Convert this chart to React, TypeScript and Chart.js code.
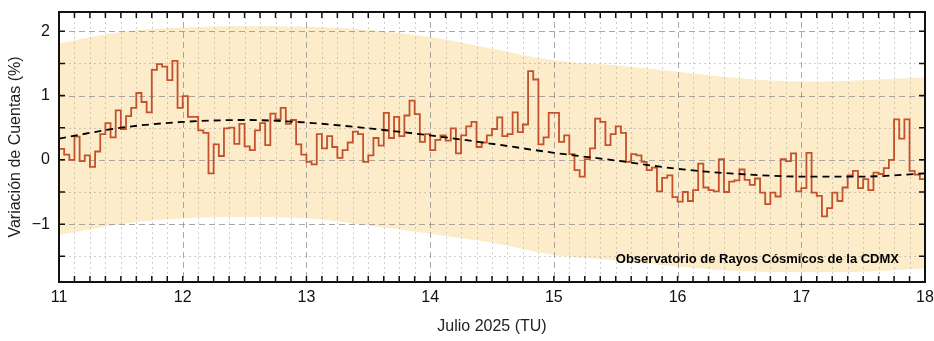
import React, { useEffect, useRef } from "react";
import { Chart, registerables } from "chart.js";

Chart.register(...registerables);

// Hourly count variation (%), 11–18 July 2025, one value per hour
const hourlyVariation: number[] = [
  // 11 Jul
  0.17, 0.08, 0.0, 0.36, -0.02, 0.07, -0.11, 0.13, 0.4, 0.57, 0.35, 0.77,
  0.48, 0.68, 0.81, 1.04, 0.9, 0.74, 1.4, 1.49, 1.45, 1.24, 1.54, 0.81,
  // 12 Jul
  0.99, 0.67, 0.67, 0.46, 0.42, -0.21, 0.24, 0.06, 0.49, 0.5, 0.25, 0.56,
  0.21, 0.15, 0.46, 0.57, 0.23, 0.72, 0.63, 0.81, 0.56, 0.62, 0.24, 0.08,
  // 13 Jul
  -0.03, -0.07, 0.4, 0.18, 0.37, 0.2, 0.03, 0.15, 0.27, 0.44, 0.4, -0.03,
  0.07, 0.34, 0.22, 0.73, 0.34, 0.67, 0.37, 0.69, 0.92, 0.71, 0.28, 0.4,
  // 14 Jul
  0.15, 0.31, 0.38, 0.3, 0.49, 0.1, 0.38, 0.52, 0.59, 0.2, 0.27, 0.38,
  0.48, 0.66, 0.37, 0.4, 0.74, 0.43, 0.55, 1.38, 1.25, 0.24, 0.35, 0.73,
  // 15 Jul
  0.73, 0.28, 0.38, 0.09, -0.16, -0.26, 0.01, 0.18, 0.64, 0.59, 0.23, 0.4,
  0.52, 0.42, -0.03, 0.09, 0.07, -0.03, -0.16, -0.12, -0.49, -0.28, -0.24, -0.58,
  // 16 Jul
  -0.65, -0.5, -0.64, -0.47, -0.06, -0.43, -0.47, -0.49, 0.01, -0.5, -0.34, -0.32,
  -0.15, -0.31, -0.39, -0.29, -0.51, -0.69, -0.51, -0.57, 0.01, -0.02, 0.1, -0.49,
  // 17 Jul
  -0.44, 0.11, -0.51, -0.56, -0.88, -0.75, -0.51, -0.64, -0.43, -0.24, -0.17, -0.44,
  -0.3, -0.47, -0.2, -0.22, -0.13, 0.0, 0.63, 0.33, 0.63, -0.17, -0.23, -0.3,
];

const startDay = 11;
const endDay = 18;

// Smooth trend (dashed) and confidence band, sampled every half day
const curveDays: number[] = [11, 11.5, 12, 12.5, 13, 13.5, 14, 14.5, 15, 15.5, 16, 16.5, 17, 17.5, 18];
const trendValues: number[] = [0.33, 0.5, 0.59, 0.62, 0.58, 0.49, 0.38, 0.25, 0.11, -0.01, -0.14, -0.22, -0.26, -0.26, -0.21];
const bandUpper: number[] = [1.81, 1.99, 2.06, 2.08, 2.07, 2.02, 1.91, 1.73, 1.55, 1.47, 1.37, 1.27, 1.22, 1.24, 1.28];
const bandLower: number[] = [-1.17, -1.0, -0.91, -0.89, -0.91, -1.02, -1.15, -1.29, -1.48, -1.56, -1.66, -1.73, -1.75, -1.74, -1.69];

const xDayTicks: number[] = [11, 12, 13, 14, 15, 16, 17, 18];
const yMajorTicks: number[] = [-1, 0, 1, 2];
const yMinorTicks: number[] = [-1.5, -0.5, 0.5, 1.5];
const yMin = -1.9;
const yMax = 2.3;
const xMinorStep = 0.125; // 3 hours

const FONT = "'Liberation Sans', Arial, Helvetica, sans-serif";

export default function App() {
  const canvasRef = useRef<HTMLCanvasElement | null>(null);

  useEffect(() => {
    const canvas = canvasRef.current;
    if (!canvas) return;

    const stepData = hourlyVariation.map((v, i) => ({ x: startDay + i / 24, y: v }));
    stepData.push({ x: endDay, y: hourlyVariation[hourlyVariation.length - 1] });

    const frame = {
      id: "frame",
      afterDatasetDraw(chart: any, args: any) {
        if (args.index !== 2) return;
        const { ctx, chartArea } = chart;
        const xs = chart.scales.x;
        const ys = chart.scales.y;
        ctx.save();
        ctx.lineWidth = 1;
        // minor dotted grid
        ctx.strokeStyle = "rgba(150,150,150,0.45)";
        ctx.setLineDash([2, 3]);
        for (let d = startDay; d <= endDay + 1e-9; d += xMinorStep) {
          if (Math.abs(d - Math.round(d)) < 1e-6) continue;
          const px = Math.round(xs.getPixelForValue(d)) + 0.5;
          ctx.beginPath();
          ctx.moveTo(px, chartArea.top);
          ctx.lineTo(px, chartArea.bottom);
          ctx.stroke();
        }
        for (const v of yMinorTicks) {
          const py = Math.round(ys.getPixelForValue(v)) + 0.5;
          ctx.beginPath();
          ctx.moveTo(chartArea.left, py);
          ctx.lineTo(chartArea.right, py);
          ctx.stroke();
        }
        // major dashed grid
        ctx.strokeStyle = "rgba(140,140,140,0.75)";
        ctx.setLineDash([6, 4]);
        for (const d of xDayTicks) {
          const px = Math.round(xs.getPixelForValue(d)) + 0.5;
          ctx.beginPath();
          ctx.moveTo(px, chartArea.top);
          ctx.lineTo(px, chartArea.bottom);
          ctx.stroke();
        }
        for (const v of yMajorTicks) {
          const py = Math.round(ys.getPixelForValue(v)) + 0.5;
          ctx.beginPath();
          ctx.moveTo(chartArea.left, py);
          ctx.lineTo(chartArea.right, py);
          ctx.stroke();
        }
        ctx.restore();
      },
      afterDraw(chart: any) {
        const { ctx, chartArea } = chart;
        const xs = chart.scales.x;
        const ys = chart.scales.y;
        const { left, right, top, bottom } = chartArea;
        ctx.save();
        ctx.setLineDash([]);
        ctx.strokeStyle = "#111";
        ctx.lineWidth = 1.5;
        const tick = 6;
        // x tick marks (every 3 h), top and bottom, inward
        for (let d = startDay; d <= endDay + 1e-9; d += xMinorStep) {
          const px = xs.getPixelForValue(d);
          ctx.beginPath();
          ctx.moveTo(px, bottom);
          ctx.lineTo(px, bottom - tick);
          ctx.moveTo(px, top);
          ctx.lineTo(px, top + tick);
          ctx.stroke();
        }
        // y tick marks (every 0.5), left and right, inward
        for (const v of [...yMajorTicks, ...yMinorTicks]) {
          const py = ys.getPixelForValue(v);
          ctx.beginPath();
          ctx.moveTo(left, py);
          ctx.lineTo(left + tick, py);
          ctx.moveTo(right, py);
          ctx.lineTo(right - tick, py);
          ctx.stroke();
        }
        // frame
        ctx.lineWidth = 2;
        ctx.strokeRect(left, top, right - left, bottom - top);
        // annotation
        ctx.fillStyle = "#000";
        ctx.font = `bold 13px ${FONT}`;
        ctx.textAlign = "right";
        ctx.textBaseline = "middle";
        ctx.fillText("Observatorio de Rayos Cósmicos de la CDMX", right - 26, bottom - 23);
        ctx.restore();
      },
    };

    const chart = new Chart(canvas, {
      type: "line",
      data: {
        datasets: [
          {
            label: "Tendencia",
            data: curveDays.map((d, i) => ({ x: d, y: trendValues[i] })),
            borderColor: "#000",
            borderWidth: 1.8,
            borderDash: [7, 5],
            pointRadius: 0,
            cubicInterpolationMode: "monotone",
            fill: false,
          },
          {
            label: "Variación",
            data: stepData,
            borderColor: "#c4512b",
            borderWidth: 1.8,
            pointRadius: 0,
            stepped: true,
            fill: false,
          },
          {
            label: "Banda superior",
            data: curveDays.map((d, i) => ({ x: d, y: bandUpper[i] })),
            borderWidth: 0,
            borderColor: "rgba(0,0,0,0)",
            backgroundColor: "rgb(253,236,201)",
            pointRadius: 0,
            cubicInterpolationMode: "monotone",
            fill: "+1",
          },
          {
            label: "Banda inferior",
            data: curveDays.map((d, i) => ({ x: d, y: bandLower[i] })),
            borderWidth: 0,
            borderColor: "rgba(0,0,0,0)",
            pointRadius: 0,
            cubicInterpolationMode: "monotone",
            fill: false,
          },
        ],
      },
      options: {
        animation: false,
        responsive: false,
        events: [],
        layout: { padding: { top: 12, right: 9, left: 0, bottom: 0 } },
        plugins: {
          legend: { display: false },
          tooltip: { enabled: false },
        },
        scales: {
          x: {
            type: "linear",
            min: startDay,
            max: endDay,
            grid: { display: false, drawTicks: false },
            border: { display: false },
            afterBuildTicks: (scale: any) => {
              scale.ticks = xDayTicks.map((v) => ({ value: v }));
            },
            afterFit: (scale: any) => {
              scale.height = 59;
              scale.paddingLeft = 0;
              scale.paddingRight = 0;
              scale.paddingTop = 0;
              scale.paddingBottom = 0;
            },
            ticks: {
              autoSkip: false,
              maxRotation: 0,
              padding: 6,
              color: "#111",
              font: { family: FONT, size: 16 },
              callback: (v: any) => String(v),
            },
            title: {
              display: true,
              text: "Julio 2025 (TU)",
              color: "#222",
              font: { family: FONT, size: 16 },
              padding: { top: 5, bottom: 5 },
            },
          },
          y: {
            type: "linear",
            min: yMin,
            max: yMax,
            grid: { display: false, drawTicks: false },
            border: { display: false },
            afterBuildTicks: (scale: any) => {
              scale.ticks = yMajorTicks.map((v) => ({ value: v }));
            },
            afterFit: (scale: any) => {
              scale.width = 59;
              scale.paddingLeft = 0;
              scale.paddingRight = 0;
              scale.paddingTop = 0;
              scale.paddingBottom = 0;
            },
            ticks: {
              autoSkip: false,
              padding: 9,
              color: "#111",
              font: { family: FONT, size: 16 },
              callback: (v: any) => {
                const n = Number(v);
                return n < 0 ? "\u2212" + Math.abs(n) : String(n);
              },
            },
            title: {
              display: true,
              text: "Variación de Cuentas (%)",
              color: "#222",
              font: { family: FONT, size: 16 },
              padding: { top: 6, bottom: 0 },
            },
          },
        },
      },
      plugins: [frame],
    } as any);

    return () => chart.destroy();
  }, []);

  return (
    <div style={{ position: "fixed", left: 0, top: 0, width: 934, height: 341, background: "#fff" }}>
      <canvas ref={canvasRef} width={934} height={341} style={{ display: "block", width: 934, height: 341 }} />
    </div>
  );
}
